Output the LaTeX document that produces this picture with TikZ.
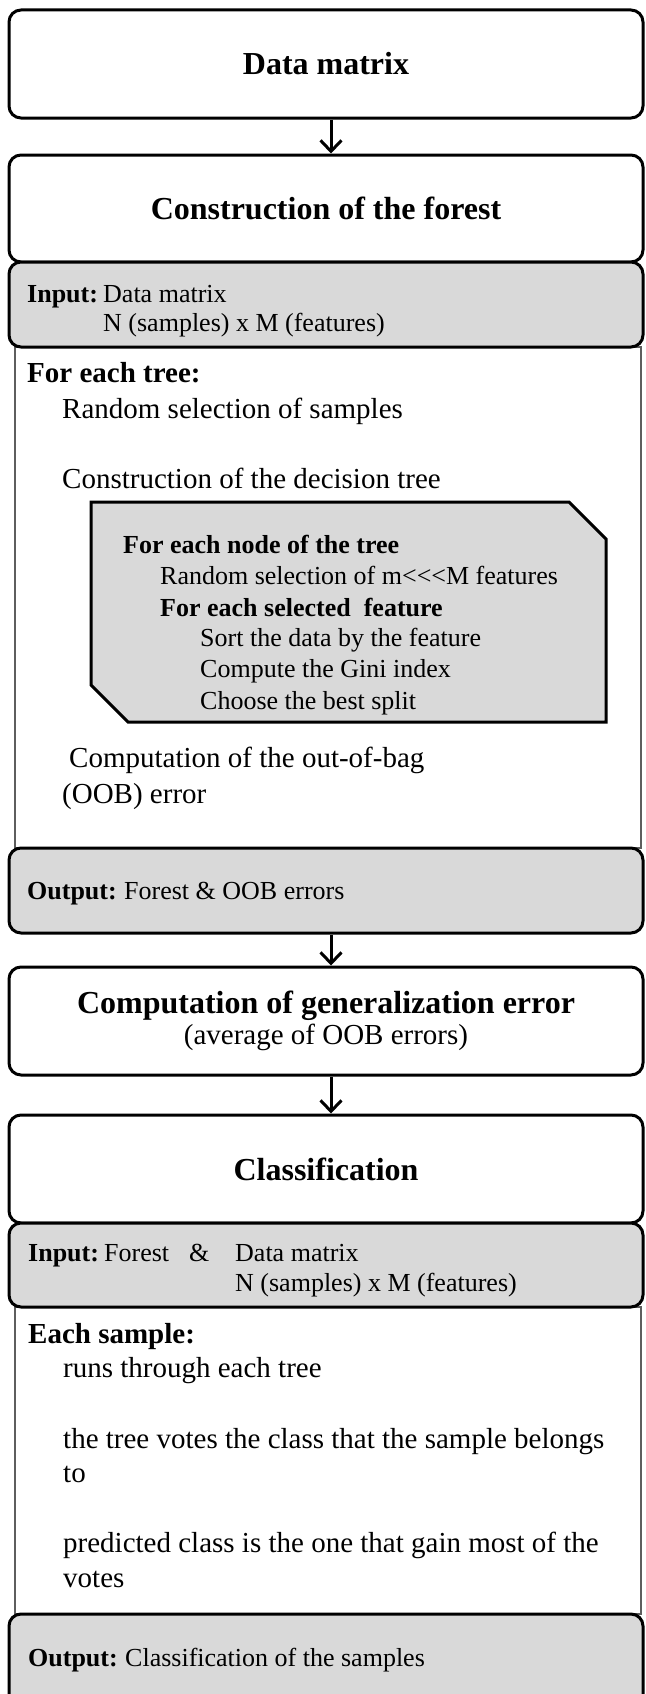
\documentclass[tikz,border=0pt]{standalone}
\usepackage{fontspec}
\setmainfont{Liberation Serif}
\usetikzlibrary{arrows.meta}

\definecolor{panelgray}{HTML}{D9D9D9}
\definecolor{framegray}{HTML}{5E5E5E}

\tikzset{
  stage/.style={draw=black, line width=3pt, rounded corners=12pt, fill=white,
    minimum width=634pt, inner sep=0pt, align=center},
  panel/.style={draw=black, line width=3pt, rounded corners=12pt, fill=panelgray,
    minimum width=634pt, inner sep=0pt},
  bodybox/.style={draw=framegray, line width=1.3pt, fill=white,
    minimum width=626pt, inner sep=0pt},
  snipbox/.style={draw=black, line width=3pt, fill=panelgray, line join=miter},
  flow/.style={line width=3pt, -{Straight Barb[length=11pt,width=21pt]}},
  titlefont/.style={font=\fontsize{32}{36}\selectfont\bfseries},
  big/.style={anchor=base west, inner sep=0pt, font=\fontsize{29}{34}\selectfont},
  small/.style={anchor=base west, inner sep=0pt, font=\fontsize{26}{31}\selectfont},
}

\begin{document}
\begin{tikzpicture}[x=1pt, y=-1pt]
\useasboundingbox (0,0) rectangle (645,1694);
\clip (0,0) rectangle (645,1694);

% framed bodies under the stages
\node[bodybox, minimum height=501pt] (body1) at (328,597.5) {};
\node[bodybox, minimum height=307pt] (body2) at (328,1460.5) {};

% stage boxes
\node[stage, minimum height=108pt, titlefont] (dm) at (326,64) {Data matrix};
\node[stage, minimum height=107pt, titlefont] (cf) at (326,208.5) {Construction of the forest};
\node[panel, minimum height=85pt] (in1) at (326,304.5) {};
\node[panel, minimum height=85pt] (out1) at (326,890.5) {};
\node[stage, minimum height=108pt] (gen) at (326,1021)
  {{\fontsize{32}{36}\selectfont\bfseries Computation of generalization error}\\[2pt]
   {\fontsize{29}{34}\selectfont (average of OOB errors)}};
\node[stage, minimum height=108pt, titlefont] (cls) at (326,1169) {Classification};
\node[panel, minimum height=84pt] (in2) at (326,1265) {};
\node[panel, minimum height=110pt] (out2) at (326,1669) {};

% connectors
\draw[flow] ([xshift=5pt]dm.south) -- ([xshift=5pt]cf.north);
\draw[flow] ([xshift=5pt]out1.south) -- ([xshift=5pt]gen.north);
\draw[flow] ([xshift=5pt]gen.south) -- ([xshift=5pt]cls.north);

% forest construction: input
\node[small] (in1l) at (27,302) {\textbf{Input:}};
\node[small] (in1a) at (103,302) {Data matrix};
\node[small] (in1b) at (103,331) {N (samples) x M (features)};

% forest construction: loop over trees
\node[big] (tree) at (27,382) {\textbf{For each tree:}};
\node[big] (rsel) at (62,418) {Random selection of samples};
\node[big] (cdt) at (62,488) {Construction of the decision tree};

% per-node split search
\filldraw[snipbox] (91,502) -- (569,502) -- (606,539) -- (606,722)
  -- (128,722) -- (91,685) -- cycle;
\node[small] (nd) at (123,553) {\textbf{For each node of the tree}};
\node[small] (fsel) at (160,584) {Random selection of m<\kern0pt<\kern0pt<M features};
\node[small] (sf) at (160,616) {\textbf{For each selected\ \ feature}};
\node[small] (srt) at (200,646) {Sort the data by the feature};
\node[small] (gini) at (200,677) {Compute the Gini index};
\node[small] (best) at (200,709) {Choose the best split};

\node[big] (oob1) at (69,767) {Computation of the out-of-bag};
\node[big] (oob2) at (62,803) {(OOB) error};

% forest construction: output
\node[small] (out1l) at (27,899) {\textbf{Output:}};
\node[small] (out1t) at (124,899) {Forest \& OOB errors};

% classification: input
\node[small] (in2l) at (28,1261) {\textbf{Input:}};
\node[small] (in2a) at (104,1261) {Forest};
\node[small] (in2amp) at (189,1261) {\&};
\node[small] (in2b) at (235,1261) {Data matrix};
\node[small] (in2c) at (235,1291) {N (samples)\ x M (features)};

% classification: per sample
\node[big] (each) at (28,1343) {\textbf{Each sample:}};
\node[big] (runs) at (63,1377) {runs through each tree};
\node[big] (vote1) at (63,1448) {the tree votes the class that the sample belongs};
\node[big] (vote2) at (63,1482) {to};
\node[big] (pred1) at (63,1552) {predicted class is the one that gain most of the};
\node[big] (pred2) at (63,1587) {votes};

% classification: output
\node[small] (out2l) at (28,1666) {\textbf{Output:}};
\node[small] (out2t) at (125,1666) {Classification\ of the samples};
\end{tikzpicture}
\end{document}
